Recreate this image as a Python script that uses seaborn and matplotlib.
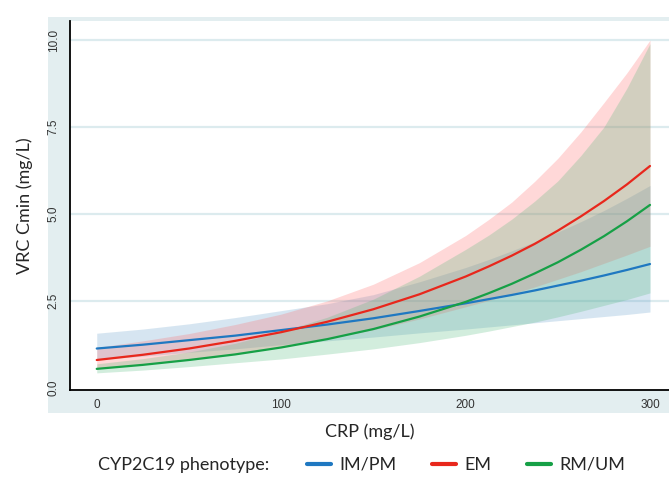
import matplotlib
matplotlib.use("Agg")
import matplotlib.pyplot as plt
from matplotlib.lines import Line2D
from matplotlib.patches import Rectangle
import pandas as pd
import seaborn as sns

# CRP grid (finer where the curves bend most)
crp = [0, 25, 50, 75, 100, 125, 150, 175, 200, 212.5, 225, 237.5, 250, 262.5, 275, 287.5, 300]

# IM/PM (blue)
im_pm = [1.13, 1.24, 1.37, 1.50, 1.66, 1.82, 2.00, 2.21, 2.43, 2.55, 2.67, 2.80, 2.94, 3.08, 3.23, 3.39, 3.56]
im_pm_lo = [0.81, 0.91, 1.02, 1.12, 1.24, 1.35, 1.46, 1.58, 1.69, 1.75, 1.81, 1.87, 1.93, 1.99, 2.05, 2.11, 2.18]
im_pm_hi = [1.57, 1.69, 1.84, 2.02, 2.22, 2.42, 2.68, 3.05, 3.46, 3.69, 3.94, 4.20, 4.48, 4.78, 5.10, 5.45, 5.82]

# EM (red)
em = [0.80, 0.95, 1.13, 1.35, 1.60, 1.90, 2.26, 2.69, 3.20, 3.49, 3.80, 4.14, 4.52, 4.93, 5.37, 5.85, 6.38]
em_lo = [0.55, 0.67, 0.81, 0.98, 1.18, 1.41, 1.67, 1.98, 2.33, 2.51, 2.70, 2.90, 3.12, 3.34, 3.58, 3.82, 4.07]
em_hi = [1.16, 1.35, 1.56, 1.82, 2.12, 2.50, 2.98, 3.60, 4.38, 4.84, 5.34, 5.94, 6.60, 7.36, 8.20, 9.06, 10.00]

# RM/UM (green)
rm_um = [0.545, 0.66, 0.80, 0.96, 1.16, 1.40, 1.69, 2.05, 2.47, 2.72, 2.99, 3.29, 3.61, 3.97, 4.36, 4.79, 5.26]
rm_um_lo = [0.43, 0.51, 0.61, 0.72, 0.83, 0.97, 1.12, 1.30, 1.51, 1.63, 1.76, 1.89, 2.04, 2.20, 2.37, 2.54, 2.73]
rm_um_hi = [0.69, 0.84, 1.03, 1.28, 1.62, 2.03, 2.55, 3.21, 3.98, 4.39, 4.85, 5.37, 5.95, 6.68, 7.50, 8.62, 9.90]

groups = ["IM/PM", "EM", "RM/UM"]
line_cols = ["#1f78c1", "#e8271c", "#16a046"]
fill_cols = ["#5f9bc8", "#ff6464", "#4fb878"]
y_ticks = [0.0, 2.5, 5.0, 7.5, 10.0]
x_ticks = [0, 100, 200, 300]

df = pd.DataFrame({
    "CRP": crp * 3,
    "Cmin": im_pm + em + rm_um,
    "lo": im_pm_lo + em_lo + rm_um_lo,
    "hi": im_pm_hi + em_hi + rm_um_hi,
    "group": [g for g in groups for _ in crp],
})

sns.set_style("white")
plt.rcParams["font.family"] = ["Liberation Sans", "DejaVu Sans"]
label_font = ["Lato", "DejaVu Sans"]

fig = plt.figure(figsize=(6.69, 4.84), dpi=100)
# light blue-grey outer region like Stata
fig.patches.append(Rectangle((48 / 669, 71 / 484), 621 / 669, 396 / 484,
                             transform=fig.transFigure, facecolor="#e3eef0",
                             edgecolor="none", zorder=-10))
ax = fig.add_axes([70 / 669, 94 / 484, 599 / 669, 369 / 484])
ax.set_facecolor("white")

# confidence bands first
for g, fc in zip(groups, fill_cols):
    d = df[df["group"] == g]
    ax.fill_between(d["CRP"], d["lo"], d["hi"], color=fc, alpha=0.25,
                    linewidth=0, zorder=2)

sns.lineplot(data=df, x="CRP", y="Cmin", hue="group", hue_order=groups,
             palette=line_cols, linewidth=1.6, legend=False, ax=ax, zorder=3)

ax.set_xlim(-14.5, 310.3)
ax.set_ylim(-0.063, 10.55)
ax.set_xticks(x_ticks)
ax.set_yticks(y_ticks)
ax.set_yticklabels([f"{v:.1f}" for v in y_ticks], rotation=90, va="center")
ax.tick_params(axis="both", direction="out", length=4.5, width=1.1,
               labelsize=8.5, labelcolor="#333333", color="black")
ax.tick_params(axis="y", pad=3)
ax.tick_params(axis="x", pad=2)

ax.yaxis.grid(True, color="#dcebee", linewidth=1.6, zorder=1)
ax.set_axisbelow(True)
ax.get_ygridlines()[0].set_visible(False)
ax.xaxis.grid(False)

for s in ["top", "right"]:
    ax.spines[s].set_visible(False)
for s in ["left", "bottom"]:
    ax.spines[s].set_color("black")
    ax.spines[s].set_linewidth(1.3)

ax.set_xlabel("CRP (mg/L)", fontsize=13, family=label_font)
ax.set_ylabel("VRC Cmin (mg/L)", fontsize=13, family=label_font)
ax.xaxis.label.set_va("center")
ax.yaxis.label.set_va("center")
ax.xaxis.set_label_coords(0.5, -0.114)
ax.yaxis.set_label_coords(-0.075, 0.5)

# legend below
fig.text(98 / 669, 19 / 484, "CYP2C19 phenotype:", fontsize=13,
         family=label_font, va="center", ha="left")
handles = [Line2D([0], [0], color=c, linewidth=3) for c in line_cols]
fig.legend(handles, groups, loc="center left", bbox_to_anchor=(307 / 669, 19 / 484),
           ncol=3, frameon=False, handlelength=1.33, handletextpad=0.44,
           columnspacing=2.0, borderpad=0, borderaxespad=0,
           prop={"family": label_font, "size": 13})

fig.savefig("out.png", dpi=100)
